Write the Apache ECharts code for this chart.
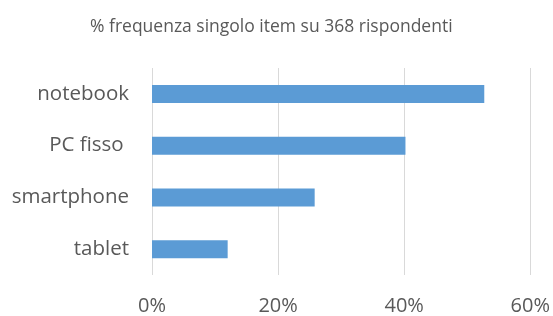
<!DOCTYPE html>
<html>
<head>
<meta charset="utf-8">
<script src="https://cdn.jsdelivr.net/npm/echarts@6/dist/echarts.min.js"></script>
<style>
  html, body { margin: 0; padding: 0; background: #fff; }
  #chart { width: 553px; height: 316px; }
</style>
</head>
<body>
<div id="chart"></div>
<script>
// dati (% su 368 rispondenti)
var categories = ['notebook', 'PC fisso ', 'smartphone', 'tablet']
var values = [52.7, 40.2, 25.8, 12.0]
var xTicks = [0, 20, 40, 60]

var myChart = echarts.init(document.getElementById('chart'))

myChart.setOption({
  animation: false,
  title: {
    text: '% frequenza singolo item su 368 rispondenti',
    left: 85,
    top: 13,
    textStyle: {
      color: '#595959',
      fontFamily: 'Open Sans',
      fontSize: 17.5,
      fontWeight: 'normal'
    }
  },
  grid: {
    left: 152,
    right: 21,
    top: 68,
    bottom: 39
  },
  xAxis: {
    type: 'value',
    min: xTicks[0],
    max: xTicks[xTicks.length - 1],
    interval: 20,
    axisLine: { show: false },
    axisTick: { show: false },
    splitLine: {
      show: true,
      lineStyle: { color: '#d9d9d9', width: 1 }
    },
    axisLabel: {
      margin: 21,
      formatter: '{value}%',
      color: '#595959',
      fontFamily: 'Open Sans',
      fontSize: 20
    }
  },
  yAxis: {
    type: 'category',
    inverse: true, // notebook in alto
    data: categories,
    axisLine: { show: false },
    axisTick: { show: false },
    axisLabel: {
      margin: 23,
      color: '#595959',
      fontFamily: 'Open Sans',
      fontSize: 20.5
    }
  },
  series: [
    {
      type: 'bar',
      data: values,
      barWidth: 18,
      itemStyle: { color: '#5b9bd5' }
    }
  ]
})
</script>
</body>
</html>
